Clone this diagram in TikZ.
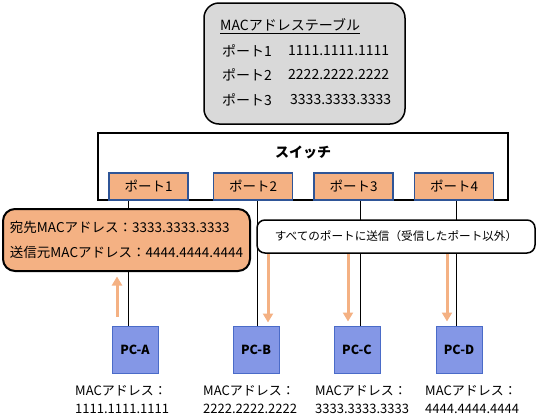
\documentclass[tikz,border=0pt]{standalone}
\usepackage{fontspec}
\setmainfont{Noto Sans CJK JP}
\usetikzlibrary{arrows.meta}

\definecolor{portorange}{HTML}{F4B183}
\definecolor{portblue}{HTML}{2F5597}
\definecolor{pcblue}{HTML}{8497E6}
\definecolor{pcedge}{HTML}{4A6BC8}
\definecolor{tablegray}{HTML}{D9D9D9}

\begin{document}
\begin{tikzpicture}[
    x=1pt, y=-1pt,
    every node/.style={inner sep=0pt},
    port/.style={draw=portblue, line width=1.5pt, fill=portorange, minimum width=79pt, minimum height=27pt, font=\fontsize{13.5}{15}\selectfont},
    pc/.style={draw=pcedge, line width=1pt, fill=pcblue, minimum width=46pt, minimum height=47pt, font=\bfseries\fontsize{12.5}{14}\selectfont},
    maclabel/.style={anchor=west, align=left, font=\fontsize{13}{18}\selectfont},
    tablerow/.style={anchor=west, font=\fontsize{14}{16}\selectfont},
    sendarrow/.style={draw=portorange, line width=3pt, -{Triangle[width=10pt,length=9pt]}}
]
\useasboundingbox (0,0) rectangle (539,418);

% MAC address table
\node[draw, line width=1.5pt, fill=tablegray, rounded corners=15pt, minimum width=201pt, minimum height=121pt] (table) at (304.5,63.5) {};
\node[anchor=west, font=\fontsize{14}{16}\selectfont] (title) at (220,26) {\underline{MACアドレステーブル}};
\node[tablerow] (row1) at (222,51) {ポート1};
\node[tablerow] (mac1) at (288,51) {1111.1111.1111};
\node[tablerow] (row2) at (222,75) {ポート2};
\node[tablerow] (mac2) at (288,75) {2222.2222.2222};
\node[tablerow] (row3) at (222,100) {ポート3};
\node[tablerow] (mac3) at (290,100) {3333.3333.3333};

% switch
\node[draw, line width=2pt, minimum width=410pt, minimum height=67pt] (switch) at (303,166.5) {};
\node[font=\bfseries\fontsize{14}{16}\selectfont] (swname) at (303,152) {スイッチ};
\node[port] (port1) at (148.5,186.5) {ポート1};
\node[port] (port2) at (253,186.5) {ポート2};
\node[port] (port3) at (353.5,186.5) {ポート3};
\node[port] (port4) at (454,186.5) {ポート4};

% PCs
\node[pc] (pcA) at (135,349.5) {PC-A};
\node[pc] (pcB) at (256,349.5) {PC-B};
\node[pc] (pcC) at (357,349.5) {PC-C};
\node[pc] (pcD) at (459,349.5) {PC-D};

\node[maclabel] (macA) at (75,400) {MACアドレス：\\1111.1111.1111};
\node[maclabel] (macB) at (203,400) {MACアドレス：\\2222.2222.2222};
\node[maclabel] (macC) at (315,400) {MACアドレス：\\3333.3333.3333};
\node[maclabel] (macD) at (425,400) {MACアドレス：\\4444.4444.4444};

% cables
\draw ([xshift=-7pt]pcA.north) -- ([xshift=-7pt]pcA.north |- port1.south);
\draw ([xshift=1pt]pcB.north) -- ([xshift=1pt]pcB.north |- port2.south);
\draw ([xshift=3pt]pcC.north) -- ([xshift=3pt]pcC.north |- port3.south);
\draw ([xshift=-3pt]pcD.north) -- ([xshift=-3pt]pcD.north |- port4.south);

% frames
\node[draw, line width=2pt, fill=portorange, rounded corners=12pt, minimum width=247pt, minimum height=62pt,
      align=left, font=\fontsize{13.5}{25}\selectfont] (frame) at (126.5,240)
      {宛先MACアドレス：3333.3333.3333\\送信元MACアドレス：4444.4444.4444};
\node[draw, line width=1.5pt, fill=white, rounded corners=8pt, minimum width=278pt, minimum height=33pt,
      font=\fontsize{11.6}{14}\selectfont] (flood) at (396,236.5)
      {すべてのポートに送信（受信したポート以外）};

% arrows
\coordinate (upA) at ([xshift=-18pt,yshift=9pt]pcA.north);
\draw[sendarrow] (upA) -- ++(0,-40);
\draw[sendarrow] (flood.south -| 268,0) -- ([yshift=3pt]pcB.north -| 268,0);
\draw[sendarrow] (flood.south -| 348,0) -- ([yshift=4pt]pcC.north -| 348,0);
\draw[sendarrow] (flood.south -| 447,0) -- ([yshift=4pt]pcD.north -| 447,0);
\end{tikzpicture}
\end{document}
